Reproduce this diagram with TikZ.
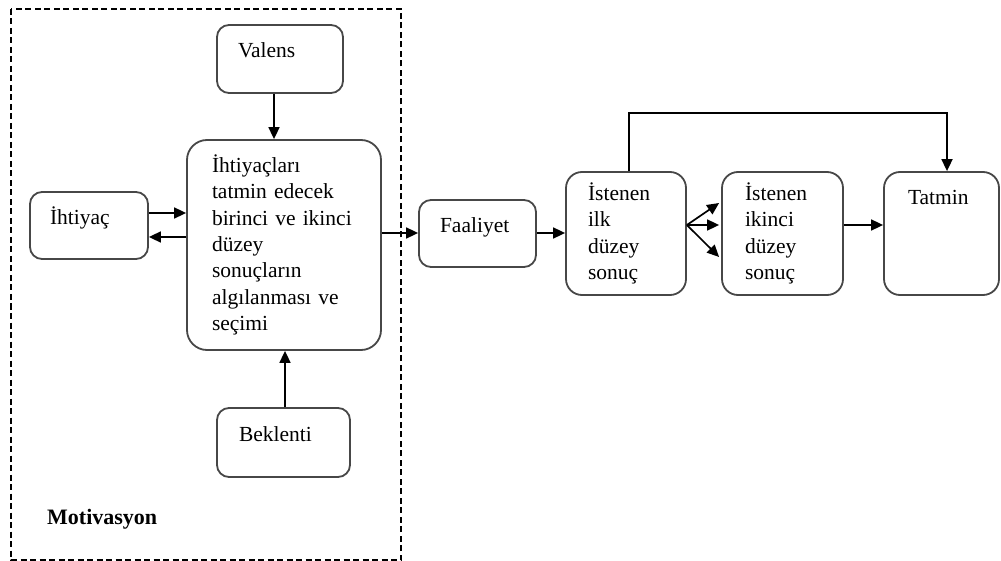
\documentclass[tikz,border=0pt]{standalone}
\usepackage{fontspec}
\setmainfont{Liberation Serif}
\usetikzlibrary{arrows.meta}
\begin{document}
\begin{tikzpicture}[x=1pt,y=-1pt,
  box/.style={draw=black!72, line width=1.8pt, rounded corners=12pt, inner xsep=0pt, inner ysep=0pt, align=left, font=\fontsize{21.5}{26.3}\selectfont},
  onel/.style={text height=15pt, text depth=17pt},
  arr/.style={-{Triangle[length=12pt,width=11pt]}, line width=1.7pt}
]
\useasboundingbox (0,0) rectangle (1001,561);
\draw[line width=1.3pt, dash pattern=on 6pt off 3.5pt] (11,9) rectangle (401,560);

\node[box, onel, minimum width=126pt, minimum height=68pt, text width=84pt] (val) at (280,59) {Valens};
\node[box, onel, minimum width=118pt, minimum height=67pt, text width=78pt] (iht) at (89,225.5) {İhtiyaç};
\node[box, rounded corners=20pt, minimum width=194pt, minimum height=210pt, text width=144pt] (main) at (284,245)
  {İhtiyaçları\\ tatmin edecek\\ birinci ve ikinci\\ düzey\\ sonuçların\\ algılanması ve\\ seçimi};
\node[box, onel, minimum width=133pt, minimum height=69pt, text width=89pt] (bek) at (283.5,442.5) {Beklenti};
\node[box, onel, minimum width=117pt, minimum height=67pt, text width=75pt] (fa) at (477.5,233.5) {Faaliyet};
\node[box, rounded corners=16pt, minimum width=120pt, minimum height=123pt, text width=76pt] (ilk) at (626,233.5) {İstenen\\ ilk\\ düzey\\ sonuç};
\node[box, rounded corners=16pt, minimum width=121pt, minimum height=123pt, text width=75pt] (ikin) at (782.5,233.5) {İstenen\\ ikinci\\ düzey\\ sonuç};
\node[box, rounded corners=16pt, text height=15pt, text depth=72pt, minimum width=115pt, minimum height=123pt, text width=67pt] (tat) at (941.5,233.5) {Tatmin};

\node[font=\bfseries\fontsize{22}{25}\selectfont, anchor=base west, inner sep=0pt] (mot) at (47,524) {Motivasyon};

\draw[arr] ([xshift=-6pt]val.south) -- ([xshift=-6pt]val.south |- main.north);
\draw[arr] ([xshift=1.5pt]bek.north) -- ([xshift=1.5pt]bek.north |- main.south);
\draw[arr] ([yshift=12.5pt]iht.east) -- ([yshift=12.5pt]iht.east -| main.west);
\draw[arr] ([yshift=-11.5pt]iht.east -| main.west) -- ([yshift=-11.5pt]iht.east);
\draw[arr] ([yshift=0.5pt]main.east |- fa.west) -- ([yshift=0.5pt]fa.west);
\draw[arr] ([yshift=0.5pt]fa.east) -- ([yshift=0.5pt]ilk.west);
\coordinate (tp) at (947,113);
\draw[arr] ([xshift=3pt]ilk.north) |- (tp) -- ([xshift=5.5pt]tat.north);
\coordinate (fan) at ([yshift=8.5pt]ilk.east);
\draw[arr] (fan) -- ([yshift=30.5pt,xshift=-2pt]ikin.west);
\draw[arr] (fan) -- ([yshift=8.5pt,xshift=-2pt]ikin.west);
\draw[arr] (fan) -- ([yshift=-23.5pt,xshift=-2pt]ikin.west);
\draw[arr] ([yshift=8.5pt]ikin.east) -- ([yshift=8.5pt]tat.west);
\end{tikzpicture}
\end{document}
